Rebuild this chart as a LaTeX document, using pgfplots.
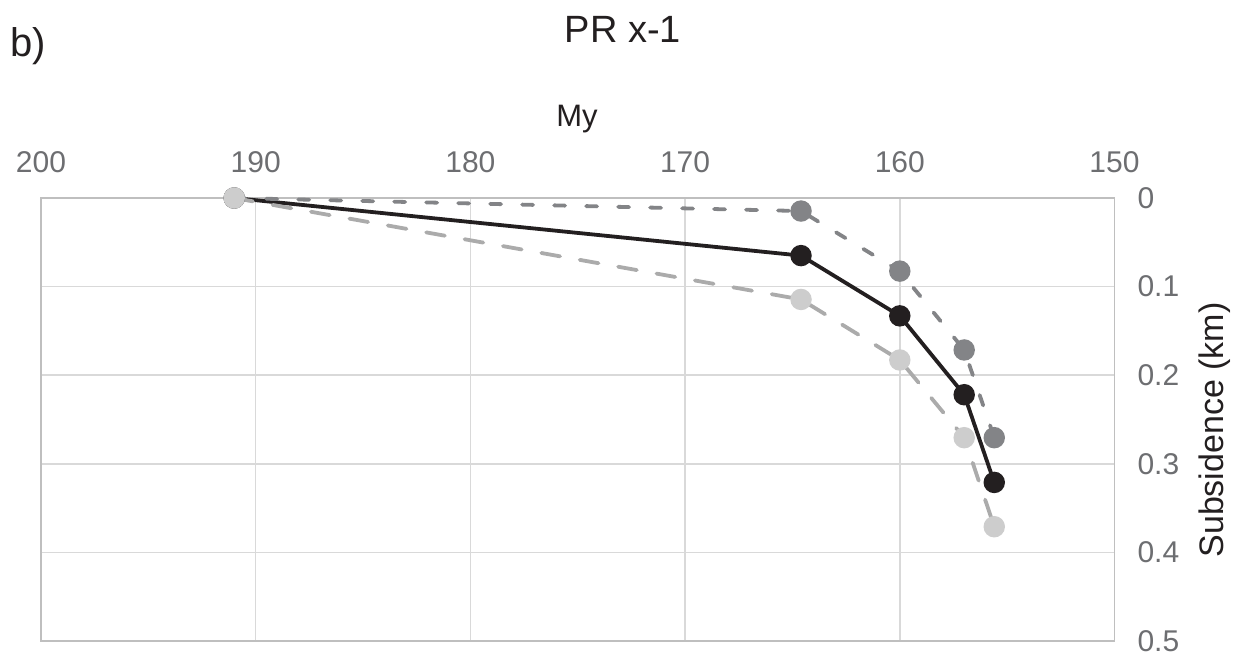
\documentclass[border=0pt]{standalone}
\usepackage{fontspec}
\setmainfont{Liberation Sans}
\usepackage{pgfplots}
\pgfplotsset{compat=1.18}

\definecolor{inkblack}{HTML}{231F20}
\definecolor{midgray}{HTML}{838487}
\definecolor{lightline}{HTML}{ABABAB}
\definecolor{lightmark}{HTML}{CDCDCD}
\definecolor{ticktext}{HTML}{6D6E71}
\definecolor{gridgray}{HTML}{D9D9D9}
\definecolor{framegray}{HTML}{BFBFBF}

\begin{document}
\begin{tikzpicture}
\path[use as bounding box] (-20.5pt,-7pt) rectangle (599.5pt,320.5pt);
\begin{axis}[
  at={(0pt,0pt)}, anchor=south west,
  scale only axis,
  width=536.75pt, height=221.5pt,
  x dir=reverse, y dir=reverse,
  xmin=150, xmax=200, ymin=0, ymax=0.5,
  xtick={150,160,170,180,190,200},
  xticklabels={150,160,170,180,190,200},
  ytick={0,0.1,0.2,0.3,0.4,0.5},
  yticklabels={0,0.1,0.2,0.3,0.4,0.5},
  xticklabel pos=upper, yticklabel pos=right,
  major tick length=0pt,
  xticklabel style={font=\fontsize{15}{18}\selectfont, text=ticktext, anchor=south, yshift=9pt},
  yticklabel style={font=\fontsize{15}{18}\selectfont, text=ticktext, anchor=west, xshift=8pt},
  grid=major,
  major grid style={gridgray, line width=0.8pt},
  axis line style={framegray, line width=0.8pt},
  clip=false,
]
% Series 1: solid black
\addplot[inkblack, line width=1.9pt, mark=*, mark size=4.4pt, mark options={solid, fill=inkblack, draw=inkblack}]
  coordinates {(191,0) (164.6,0.065) (160,0.133) (157,0.222) (155.6,0.321)};
% Series 2: short-dashed dark gray
\addplot[midgray, line width=1.9pt, line cap=round, dash pattern=on 5.5pt off 10.5pt, mark=*, mark size=4.4pt, mark options={solid, fill=midgray, draw=midgray}]
  coordinates {(191,0) (164.6,0.0147) (160,0.0825) (157,0.1715) (155.6,0.2705)};
% Series 3: long-dashed light gray
\addplot[lightline, line width=1.9pt, line cap=round, dash pattern=on 9.5pt off 10pt, mark=*, mark size=4.4pt, mark options={solid, fill=lightmark, draw=lightmark}]
  coordinates {(191,0) (164.6,0.1145) (160,0.1828) (157,0.2705) (155.6,0.371)};
\end{axis}
\node[anchor=center, text=inkblack, font=\fontsize{19}{23}\selectfont] at (291pt,306pt) {PR x-1};
\node[anchor=west, text=inkblack, font=\fontsize{20}{24}\selectfont, inner sep=0pt] at (-15.5pt,297.5pt) {b)};
\node[anchor=center, text=inkblack, font=\fontsize{15.5}{18}\selectfont] at (268pt,261pt) {My};
\node[anchor=center, rotate=90, text=inkblack, font=\fontsize{17}{20}\selectfont] at (587pt,105.5pt) {Subsidence (km)};
\end{tikzpicture}
\end{document}
